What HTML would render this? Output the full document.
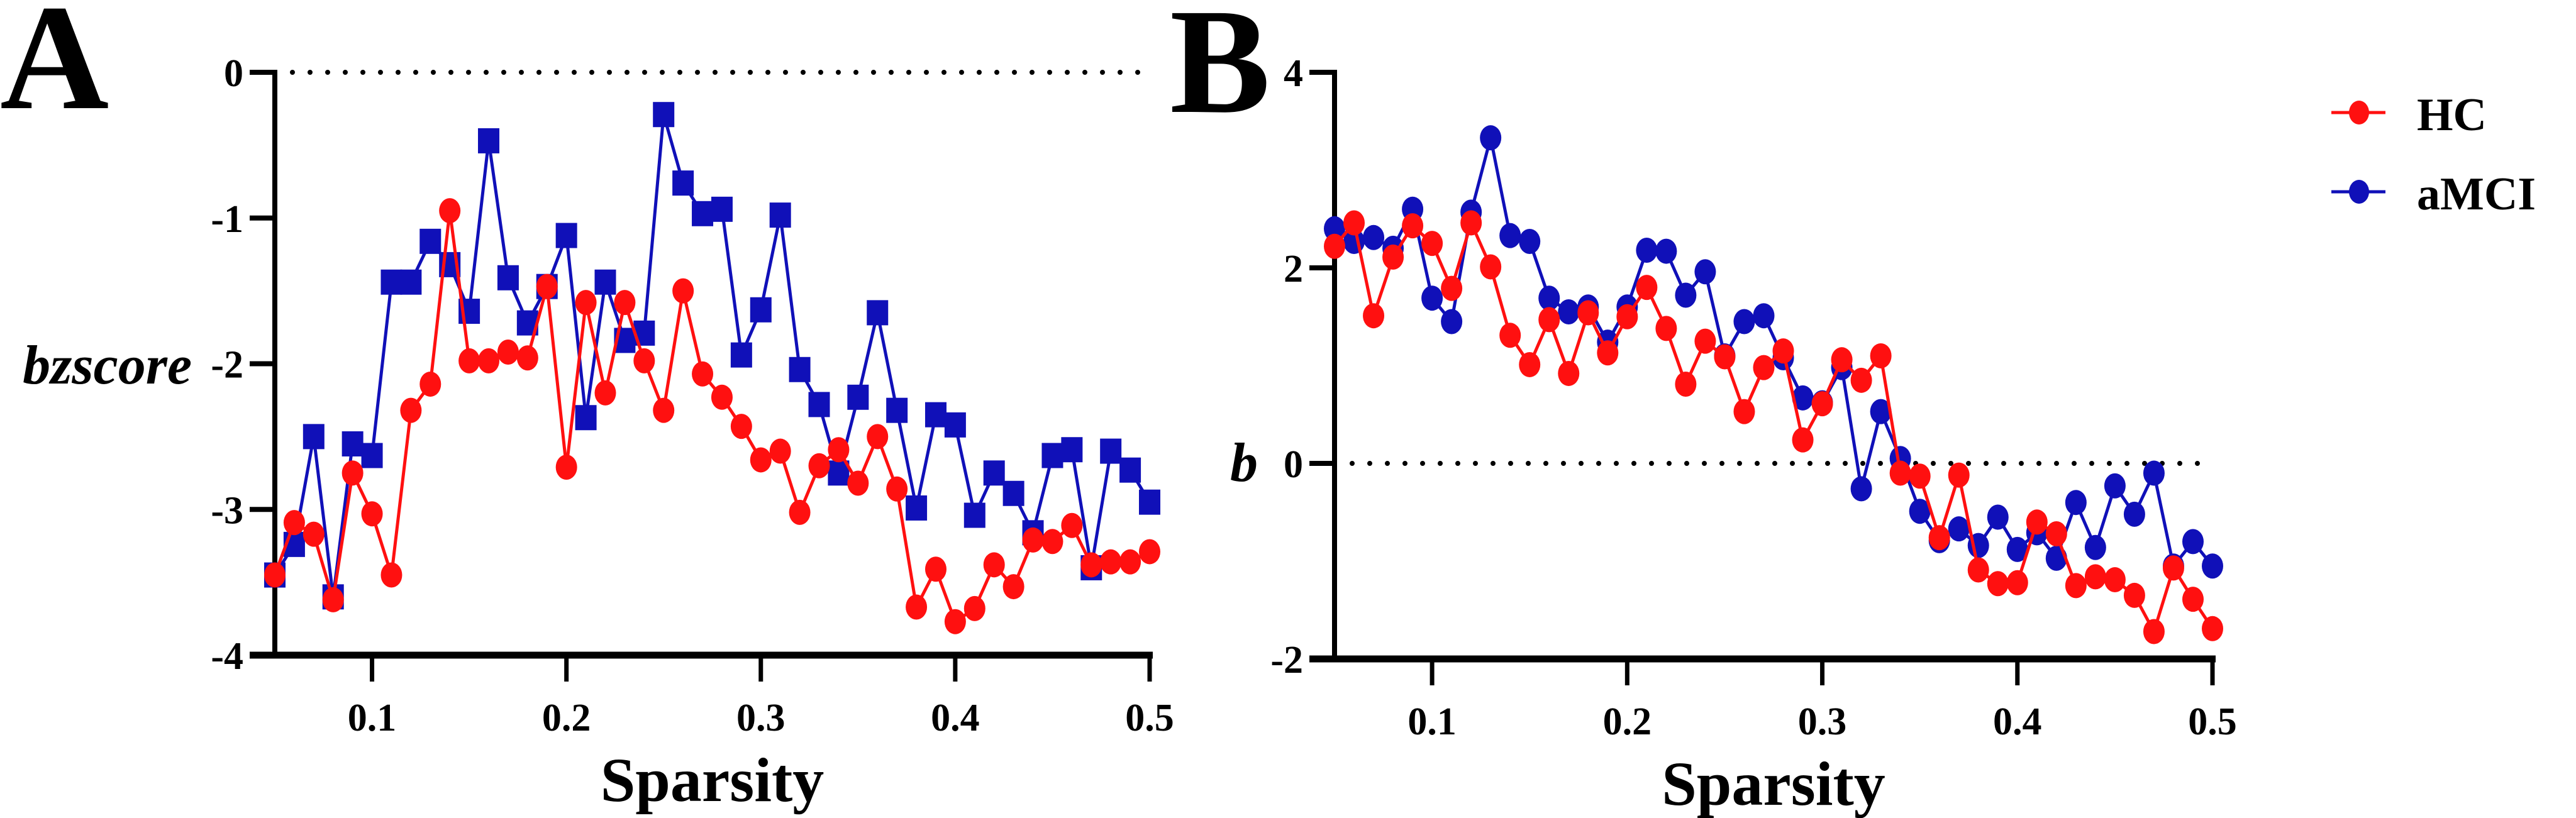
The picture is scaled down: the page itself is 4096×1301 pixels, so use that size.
<!DOCTYPE html>
<html><head><meta charset="utf-8"><style>
html,body{margin:0;padding:0;background:#fff;}
svg{display:block;font-family:"Liberation Serif",serif;font-weight:bold;}
</style></head><body>
<svg id="fig" width="4096" height="1301" viewBox="0 0 4096 1301">
<text x="0" y="172" font-size="240">A</text>
<text x="1860" y="178" font-size="240">B</text>
<g id="pa"></g>
<g id="pb"></g>
<g>
  <g>
    <line x1="3707" y1="179" x2="3793" y2="179" stroke="#ff1010" stroke-width="5"/>
    <ellipse cx="3751" cy="179" rx="16" ry="19" fill="#ff1010"/>
    <text x="3843" y="207" font-size="74">HC</text>
  </g>
  <g>
    <line x1="3707" y1="305" x2="3793" y2="305" stroke="#1010b8" stroke-width="5"/>
    <ellipse cx="3751" cy="305" rx="16" ry="19" fill="#1010b8"/>
    <text x="3843" y="333" font-size="74">aMCI</text>
  </g>
</g>
</svg>
<script>
const sparsity = [];
for (let i = 0; i <= 45; i++) sparsity.push(+(0.05 + i * 0.01).toFixed(2));
const xTicks = [0.1, 0.2, 0.3, 0.4, 0.5];
const xTickLabels = ["0.1", "0.2", "0.3", "0.4", "0.5"];
const aYTicks = [0, -1, -2, -3, -4];
const aYTickLabels = ["0", "-1", "-2", "-3", "-4"];
const bYTicks = [4, 2, 0, -2];
const bYTickLabels = ["4", "2", "0", "-2"];
const aHC = [-3.45,-3.09,-3.17,-3.62,-2.75,-3.03,-3.45,-2.32,-2.14,-0.95,-1.98,-1.98,-1.92,-1.96,-1.47,-2.71,-1.58,-2.20,-1.58,-1.98,-2.32,-1.50,-2.07,-2.23,-2.43,-2.66,-2.60,-3.02,-2.70,-2.59,-2.82,-2.50,-2.86,-3.67,-3.41,-3.77,-3.68,-3.38,-3.53,-3.21,-3.22,-3.11,-3.38,-3.36,-3.36,-3.29];
const aMCI = [-3.45,-3.24,-2.50,-3.60,-2.55,-2.63,-1.44,-1.44,-1.16,-1.32,-1.64,-0.47,-1.41,-1.72,-1.47,-1.12,-2.37,-1.44,-1.84,-1.79,-0.29,-0.76,-0.97,-0.94,-1.94,-1.63,-0.98,-2.04,-2.28,-2.75,-2.23,-1.65,-2.32,-2.99,-2.35,-2.42,-3.04,-2.75,-2.89,-3.16,-2.63,-2.59,-3.40,-2.60,-2.73,-2.95];
const bHC = [2.22,2.46,1.51,2.11,2.43,2.25,1.79,2.46,2.01,1.31,1.01,1.47,0.92,1.54,1.13,1.50,1.80,1.38,0.81,1.25,1.09,0.53,0.98,1.15,0.24,0.61,1.06,0.85,1.10,-0.10,-0.13,-0.76,-0.12,-1.09,-1.23,-1.22,-0.60,-0.72,-1.25,-1.16,-1.19,-1.35,-1.72,-1.07,-1.39,-1.69];
const bMCI = [2.40,2.27,2.31,2.20,2.60,1.69,1.45,2.57,3.33,2.33,2.27,1.69,1.55,1.60,1.24,1.60,2.18,2.17,1.72,1.96,1.10,1.45,1.51,1.08,0.67,0.62,0.98,-0.26,0.53,0.05,-0.49,-0.79,-0.67,-0.84,-0.55,-0.88,-0.71,-0.97,-0.40,-0.86,-0.23,-0.52,-0.10,-1.05,-0.80,-1.05];

const NS = "http://www.w3.org/2000/svg";
const RED = "#ff1010", BLUE = "#1010b8";
function mk(parent, tag, attrs) {
  const e = document.createElementNS(NS, tag);
  for (const k in attrs) e.setAttribute(k, attrs[k]);
  parent.appendChild(e);
  return e;
}
function panel(g, cfg) {
  const sx = v => cfg.x0 + (v - 0.05) / 0.45 * (cfg.x1 - cfg.x0);
  const sy = v => cfg.yTop + (cfg.yMax - v) / (cfg.yMax - cfg.yMin) * (cfg.yBot - cfg.yTop);
  const zl = mk(g, "line", {x1: cfg.x0 + 28, x2: cfg.x1 - 6, y1: sy(0), y2: sy(0), stroke: "#000", "stroke-width": 8, "stroke-dasharray": "0 28", "stroke-linecap": "round"});
  
  
  const ya = mk(g, "line", {x1: cfg.x0, x2: cfg.x0, y1: sy(cfg.yMax) - 4, y2: cfg.yBot + 5, stroke: "#000", "stroke-width": 8});
  
  
  const xa = mk(g, "line", {x1: cfg.x0 - 40, x2: cfg.x1 + 5, y1: cfg.yBot, y2: cfg.yBot, stroke: "#000", "stroke-width": 11});
  
  
  cfg.yTicks.forEach((t, i) => {
    const y = sy(t);
    const tk = mk(g, "line", {x1: cfg.x0 - 40, x2: cfg.x0, y1: y, y2: y, stroke: "#000", "stroke-width": 8});
    
    
    const tl = mk(g, "text", {x: cfg.x0 - 50, y: y + 22, "font-size": 62, "text-anchor": "end"});
    tl.textContent = cfg.yLabels[i];
    
    
  });
  xTicks.forEach((t, i) => {
    const x = sx(t);
    const tk = mk(g, "line", {x1: x, x2: x, y1: cfg.yBot, y2: cfg.yBot + 42, stroke: "#000", "stroke-width": 7});
    
    
    const tl = mk(g, "text", {x: x, y: cfg.yBot + 120, "font-size": 62, "text-anchor": "middle"});
    tl.textContent = xTickLabels[i];
    
    
  });
  const xt = mk(g, "text", {x: (cfg.x0 + cfg.x1) / 2, y: cfg.yBot + 232, "font-size": 100, "text-anchor": "middle"});
  xt.textContent = "Sparsity";
  
  
  const yt = mk(g, "text", {x: cfg.ytX, y: cfg.ytY, "font-size": 88, "font-style": "italic", "text-anchor": "end"});
  yt.textContent = cfg.yTitle;
  
  
  cfg.series.forEach(s => {
    const sg = mk(g, "g", {});
    
    
    const pts = s.data.map((v, i) => sx(sparsity[i]).toFixed(1) + "," + sy(v).toFixed(1)).join(" ");
    const pl = mk(sg, "polyline", {points: pts, fill: "none", stroke: s.color, "stroke-width": 5});
    
    
    s.data.forEach((v, i) => {
      const cx = sx(sparsity[i]), cy = sy(v);
      let m;
      if (s.shape === "square") m = mk(sg, "rect", {x: cx - 17, y: cy - 20, width: 34, height: 40, fill: s.color});
      else m = mk(sg, "ellipse", {cx: cx, cy: cy, rx: 17, ry: 20, fill: s.color});
      
      
    });
  });
}
panel(document.getElementById("pa"), {x0: 437, x1: 1828, yTop: 115, yBot: 1042, yMax: 0, yMin: -4,
  yTicks: aYTicks, yLabels: aYTickLabels, yTitle: "bzscore", ytX: 305, ytY: 610,
  series: [{name: "series-amci", data: aMCI, color: BLUE, shape: "square"}, {name: "series-hc", data: aHC, color: RED, shape: "circle"}]});
panel(document.getElementById("pb"), {x0: 2122, x1: 3518, yTop: 115, yBot: 1048, yMax: 4, yMin: -2,
  yTicks: bYTicks, yLabels: bYTickLabels, yTitle: "b", ytX: 2000, ytY: 765,
  series: [{name: "series-amci", data: bMCI, color: BLUE, shape: "circle"}, {name: "series-hc", data: bHC, color: RED, shape: "circle"}]});
</script>
</body></html>
